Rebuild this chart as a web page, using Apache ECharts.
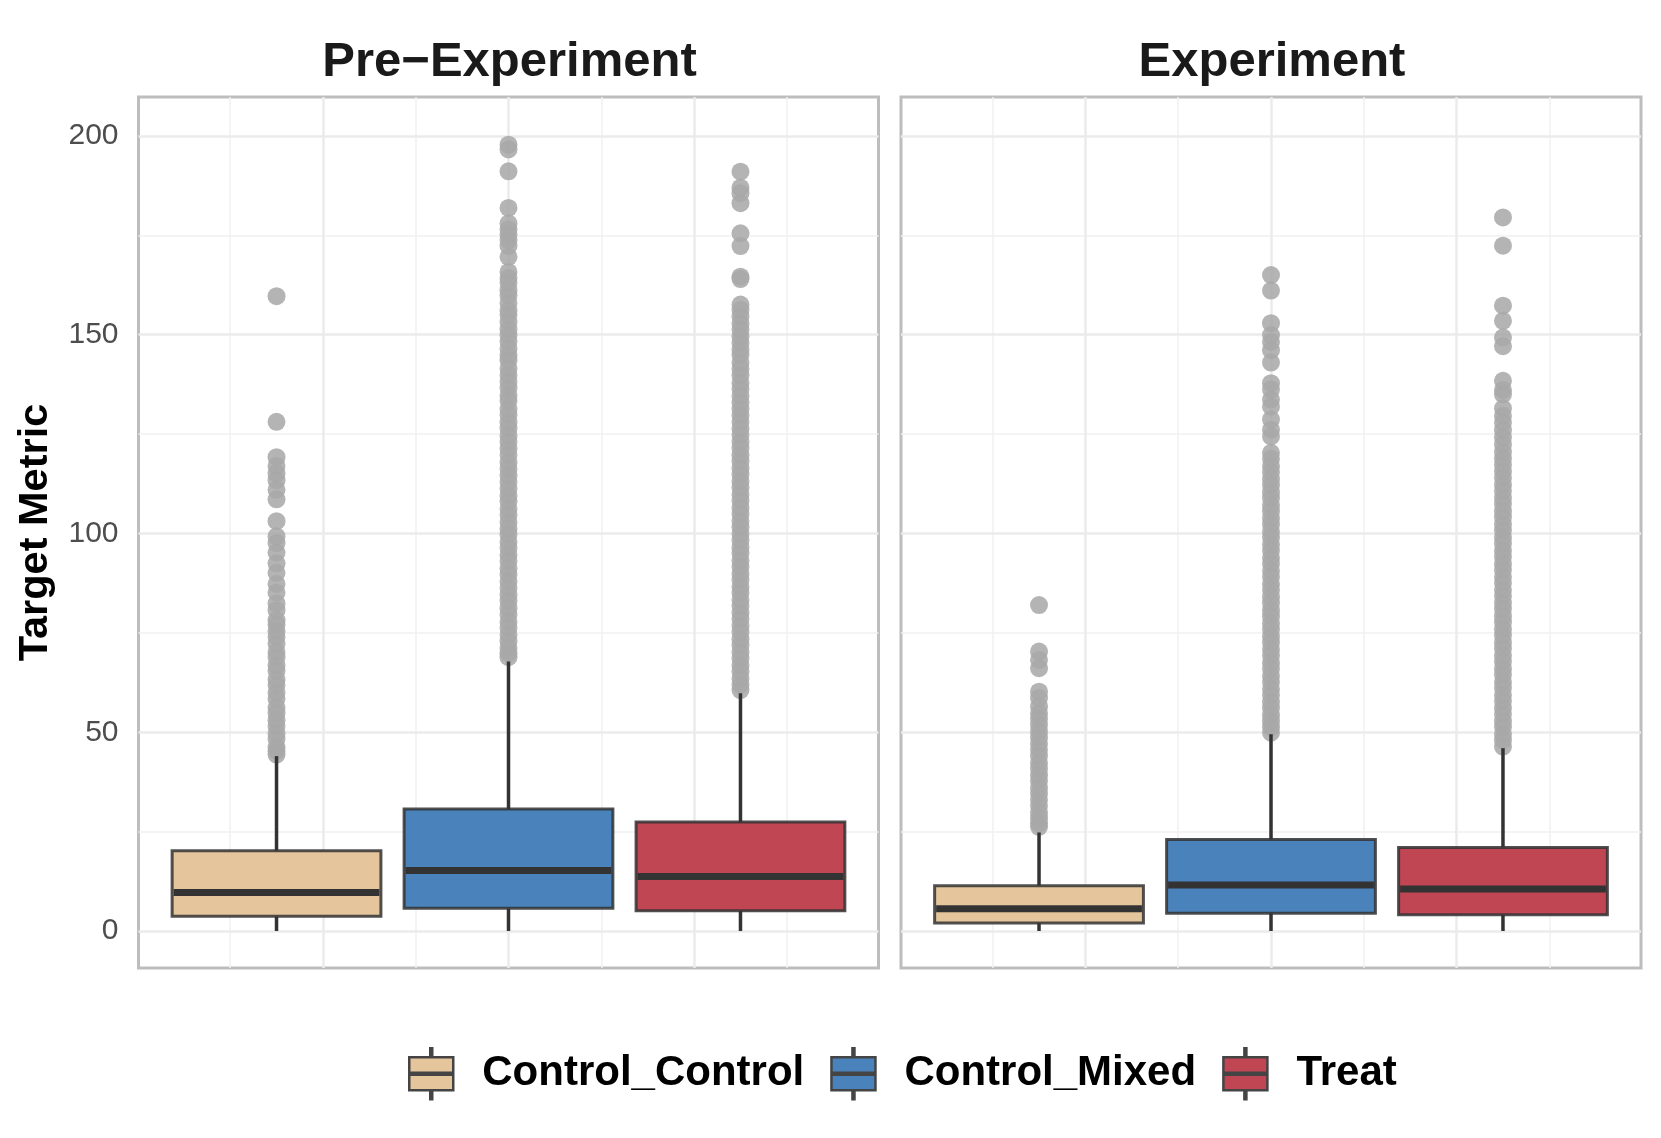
<!DOCTYPE html>
<html>
<head>
<meta charset="utf-8">
<script src="https://cdn.jsdelivr.net/npm/echarts@6/dist/echarts.min.js"></script>
<style>
html, body { margin: 0; padding: 0; background: #fff; }
#main { width: 1661px; height: 1138px; }
</style>
</head>
<body>
<div id="main"></div>
<script>
var chartDom = document.getElementById('main');
var myChart = echarts.init(chartDom);
var option;

var groups = ['Control_Control', 'Control_Mixed', 'Treat'];
var panels = ['Pre\u2212Experiment', 'Experiment'];
var groupColors = ['#e5c59b', '#4a83bc', '#c04654'];
var groupX = [0.75, 1.0, 1.25];

var yTicks = [0, 50, 100, 150, 200];
var yMinor = [25, 75, 125, 175];
var xMajor = [0.8, 1.0, 1.2];
var xMinor = [0.7, 0.9, 1.1, 1.3];

// [lower whisker, Q1, median, Q3, upper whisker]
var preCC = [0, 3.7, 9.7, 20.2, 44.0];
var preCM = [0, 5.7, 15.2, 30.7, 67.8];
var preT = [0, 5.1, 13.7, 27.4, 59.8];
var expCC = [0, 2.0, 5.6, 11.4, 24.8];
var expCM = [0, 4.5, 11.6, 23.0, 49.5];
var expT = [0, 4.1, 10.6, 21.0, 46.0];

// outliers
var preCCOut = [159.7, 128.1, 119.2, 117.0, 115.1, 113.4, 111.0, 108.6, 103.1, 99.3, 97.6, 95.2, 92.5,
  90.1, 87.3, 85.1, 82.4, 80.7, 78.2, 77.1, 75.4, 74.0, 72.3, 70.2, 68.9, 66.8, 65.5, 63.3, 61.9,
  60.0, 58.4, 56.2, 54.8, 53.0, 51.6, 49.7, 48.3, 46.2, 45.3, 44.4];
var preCMOut = [197.8, 196.6, 191.1, 181.9, 178.0, 176.5, 175.2, 173.8, 172.3, 169.6, 165.8, 164.3,
  163.1, 161.2, 159.9, 158.0, 156.1, 155.0, 153.2, 151.4, 149.9, 148.3, 146.5, 144.8, 143.6, 141.5,
  139.9, 138.2, 136.6, 134.7, 133.4, 131.3, 129.8, 128.0, 126.5, 124.6, 123.1, 121.4, 119.8, 117.9,
  116.3, 114.6, 113.0, 111.3, 109.5, 108.1, 106.2, 104.7, 102.9, 101.2, 99.8, 97.9, 96.4, 94.6, 93.1,
  91.2, 89.7, 87.9, 86.3, 84.5, 83.0, 81.2, 79.6, 77.8, 76.3, 74.5, 72.9, 71.2, 69.9, 68.9];
var preTOut = [191.0, 187.0, 185.6, 183.1, 175.5, 172.3, 164.6, 164.0, 157.6, 156.2, 154.6, 152.8,
  151.3, 149.6, 148.0, 146.3, 144.9, 143.0, 141.4, 139.8, 137.9, 136.4, 134.6, 133.0, 131.3, 129.7,
  128.1, 126.4, 124.8, 123.0, 121.5, 119.7, 118.2, 116.4, 114.9, 113.1, 111.6, 109.8, 108.3, 106.5,
  104.9, 103.2, 101.6, 99.9, 98.3, 96.5, 95.0, 93.2, 91.7, 89.9, 88.4, 86.6, 85.1, 83.3, 81.8, 80.0,
  78.5, 76.7, 75.2, 73.4, 71.9, 70.1, 68.6, 66.8, 65.3, 63.5, 62.0, 60.6];
var expCCOut = [82.0, 70.3, 68.2, 66.1, 60.2, 58.6, 56.5, 54.7, 53.4, 51.8, 50.2, 48.7, 47.1, 45.6,
  44.0, 42.3, 40.9, 39.2, 37.8, 36.1, 34.6, 33.0, 31.5, 29.8, 28.4, 27.1, 26.2];
var expCMOut = [165.0, 161.1, 152.9, 149.9, 148.2, 146.1, 143.0, 137.8, 136.2, 133.7, 131.9, 128.7,
  126.1, 124.4, 120.3, 118.8, 117.0, 115.5, 113.7, 112.2, 110.4, 108.9, 107.1, 105.6, 103.8, 102.3,
  100.5, 99.0, 97.2, 95.7, 93.9, 92.4, 90.6, 89.1, 87.3, 85.8, 84.0, 82.5, 80.7, 79.2, 77.4, 75.9,
  74.1, 72.6, 70.8, 69.3, 67.5, 66.0, 64.2, 62.7, 60.9, 59.4, 57.6, 56.1, 54.3, 52.8, 51.3, 49.9];
var expTOut = [179.5, 172.4, 157.3, 153.5, 149.3, 147.1, 138.4, 136.1, 135.0, 131.5, 129.6, 127.9,
  126.0, 124.2, 122.4, 120.5, 118.9, 117.3, 115.6, 114.0, 112.2, 110.7, 108.9, 107.4, 105.6, 104.1,
  102.3, 100.8, 99.0, 97.5, 95.7, 94.2, 92.4, 90.9, 89.1, 87.6, 85.8, 84.3, 82.5, 81.0, 79.2, 77.7,
  75.9, 74.4, 72.6, 71.1, 69.3, 67.8, 66.0, 64.5, 62.7, 61.2, 59.4, 57.9, 56.1, 54.6, 52.8, 51.3,
  49.5, 48.0, 46.4];

var boxStats = [[preCC, preCM, preT], [expCC, expCM, expT]];
var outliers = [[preCCOut, preCMOut, preTOut], [expCCOut, expCMOut, expTOut]];

var halfWidth = 0.1125;

function renderBox(params, api) {
  var x = api.value(0);
  var lo = api.coord([x, api.value(1)]);
  var q1 = api.coord([x, api.value(2)]);
  var med = api.coord([x, api.value(3)]);
  var q3 = api.coord([x, api.value(4)]);
  var hi = api.coord([x, api.value(5)]);
  var left = api.coord([x - halfWidth, 0])[0];
  var right = api.coord([x + halfWidth, 0])[0];
  var color = api.visual('color');
  return {
    type: 'group',
    children: [
      { type: 'line', shape: { x1: hi[0], y1: hi[1], x2: q3[0], y2: q3[1] },
        style: { stroke: '#333333', lineWidth: 3.5 } },
      { type: 'line', shape: { x1: q1[0], y1: q1[1], x2: lo[0], y2: lo[1] },
        style: { stroke: '#333333', lineWidth: 3.5 } },
      { type: 'rect', shape: { x: left, y: q3[1], width: right - left, height: q1[1] - q3[1] },
        style: { fill: color, stroke: 'rgba(51,51,51,0.85)', lineWidth: 3 } },
      { type: 'line', shape: { x1: left + 1.5, y1: med[1], x2: right - 1.5, y2: med[1] },
        style: { stroke: '#333333', lineWidth: 7 } }
    ]
  };
}

function gridLines() {
  var data = [];
  yMinor.forEach(function (v) { data.push({ yAxis: v, lineStyle: { color: '#f0f0f0', width: 1.5, type: 'solid' } }); });
  xMinor.forEach(function (v) { data.push({ xAxis: v, lineStyle: { color: '#f0f0f0', width: 1.5, type: 'solid' } }); });
  yTicks.forEach(function (v) { data.push({ yAxis: v, lineStyle: { color: '#ebebeb', width: 2.5, type: 'solid' } }); });
  xMajor.forEach(function (v) { data.push({ xAxis: v, lineStyle: { color: '#ebebeb', width: 2.5, type: 'solid' } }); });
  return data;
}

var grids = [
  { left: 138.5, top: 97, width: 740, height: 871 },
  { left: 901, top: 97, width: 740, height: 871 }
];

var xAxes = [];
var yAxes = [];
var series = [];
var titles = [];
var centers = [504.5, 1267];

for (var p = 0; p < 2; p++) {
  grids[p].show = true;
  grids[p].borderColor = '#bdbdbd';
  grids[p].borderWidth = 3;
  grids[p].backgroundColor = '#ffffff';

  xAxes.push({
    gridIndex: p, type: 'value', min: 0.60125, max: 1.39875,
    axisLine: { show: false }, axisTick: { show: false },
    axisLabel: { show: false }, splitLine: { show: false }
  });
  yAxes.push({
    gridIndex: p, type: 'value', min: -9.3, max: 209.8,
    axisLine: { show: false }, axisTick: { show: false }, splitLine: { show: false },
    axisLabel: {
      show: p === 0, customValues: yTicks, margin: 20,
      fontSize: 30, color: '#4d4d4d', fontFamily: 'Liberation Sans, Arial, sans-serif'
    },
    name: p === 0 ? 'Target Metric' : '',
    nameLocation: 'middle', nameGap: 82, nameRotate: 90,
    nameTextStyle: { fontSize: 41.5, fontWeight: 'bold', color: '#000000', fontFamily: 'Liberation Sans, Arial, sans-serif' }
  });

  titles.push({
    text: panels[p], left: centers[p], top: 33, textAlign: 'center',
    textStyle: { fontSize: 49, fontWeight: 'bold', color: '#1a1a1a', fontFamily: 'Liberation Sans, Arial, sans-serif' }
  });

  series.push({
    name: 'grid' + p, type: 'line', xAxisIndex: p, yAxisIndex: p, data: [],
    silent: true, z: 1,
    markLine: { silent: true, z: 1, symbol: ['none', 'none'], label: { show: false }, animation: false, data: gridLines() }
  });

  for (var g = 0; g < 3; g++) {
    series.push({
      name: 'out' + p + g, type: 'scatter', xAxisIndex: p, yAxisIndex: p, z: 10,
      symbolSize: 18, silent: true,
      itemStyle: { color: 'rgb(168,168,168)', opacity: 0.86 },
      data: outliers[p][g].map(function (v) { return [groupX[g], v]; })
    });
    var s = boxStats[p][g];
    series.push({
      name: groups[g], type: 'custom', xAxisIndex: p, yAxisIndex: p, z: 11,
      itemStyle: { color: groupColors[g] },
      renderItem: renderBox,
      encode: { x: 0, y: [1, 2, 3, 4, 5] },
      data: [[groupX[g], s[0], s[1], s[2], s[3], s[4]]]
    });
  }
}

option = {
  animation: false,
  backgroundColor: '#ffffff',
  title: titles,
  grid: grids,
  xAxis: xAxes,
  yAxis: yAxes,
  legend: {
    data: groups,
    left: 403, top: 1042,
    itemWidth: 44, itemHeight: 51, itemGap: 26,
    icon: 'path://M21,0h2v9h-2z M0,9h44v15.5h-44z M0,26.5h44v15.5h-44z M21,42h2v9h-2z',
    itemStyle: { borderColor: '#444444', borderWidth: 2.5 },
    textStyle: { fontSize: 42, fontWeight: 'bold', color: '#000000', padding: [0, 0, 0, 24],
      fontFamily: 'Liberation Sans, Arial, sans-serif' }
  },
  series: series
};

option && myChart.setOption(option);
</script>
</body>
</html>
